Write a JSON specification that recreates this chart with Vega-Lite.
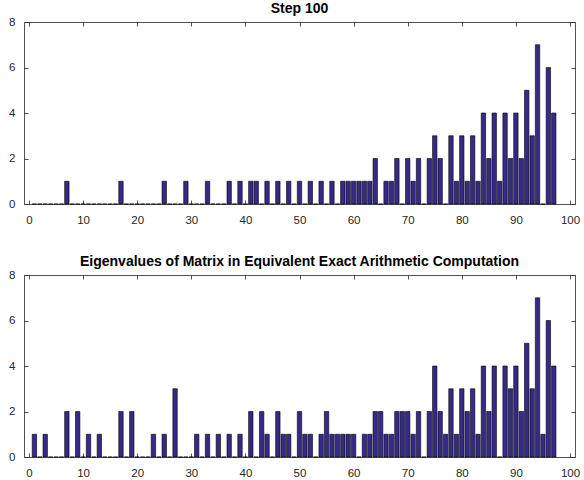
{
  "$schema": "https://vega.github.io/schema/vega-lite/v6.json",
  "padding": {"left": 8, "top": 1, "right": 5, "bottom": 5},
  "background": "white",
  "config": {
    "view": {"stroke": null},
    "font": "Liberation Sans",
    "axis": {
      "grid": false,
      "domainColor": "#262626",
      "domainWidth": 0.8,
      "tickColor": "#262626",
      "tickWidth": 0.8,
      "tickSize": -4,
      "labelFont": "Liberation Sans",
      "labelFontSize": 11.5,
      "labelColor": "#262626",
      "title": null
    },
    "title": {"font": "Liberation Sans", "fontSize": 14, "fontWeight": "bold", "color": "#000000", "anchor": "middle", "baseline": "alphabetic", "offset": 0.5}
  },
  "datasets": {
    "top": [
      {"x":1,"n":0},{"x":2,"n":0},{"x":3,"n":0},{"x":4,"n":0},{"x":5,"n":0},{"x":6,"n":0},{"x":7,"n":1},{"x":8,"n":0},{"x":9,"n":0},{"x":10,"n":0},
      {"x":11,"n":0},{"x":12,"n":0},{"x":13,"n":0},{"x":14,"n":0},{"x":15,"n":0},{"x":16,"n":0},{"x":17,"n":1},{"x":18,"n":0},{"x":19,"n":0},{"x":20,"n":0},
      {"x":21,"n":0},{"x":22,"n":0},{"x":23,"n":0},{"x":24,"n":0},{"x":25,"n":1},{"x":26,"n":0},{"x":27,"n":0},{"x":28,"n":0},{"x":29,"n":1},{"x":30,"n":0},
      {"x":31,"n":0},{"x":32,"n":0},{"x":33,"n":1},{"x":34,"n":0},{"x":35,"n":0},{"x":36,"n":0},{"x":37,"n":1},{"x":38,"n":0},{"x":39,"n":1},{"x":40,"n":0},
      {"x":41,"n":1},{"x":42,"n":1},{"x":43,"n":0},{"x":44,"n":1},{"x":45,"n":0},{"x":46,"n":1},{"x":47,"n":0},{"x":48,"n":1},{"x":49,"n":0},{"x":50,"n":1},
      {"x":51,"n":0},{"x":52,"n":1},{"x":53,"n":0},{"x":54,"n":1},{"x":55,"n":0},{"x":56,"n":1},{"x":57,"n":0},{"x":58,"n":1},{"x":59,"n":1},{"x":60,"n":1},
      {"x":61,"n":1},{"x":62,"n":1},{"x":63,"n":1},{"x":64,"n":2},{"x":65,"n":0},{"x":66,"n":1},{"x":67,"n":1},{"x":68,"n":2},{"x":69,"n":0},{"x":70,"n":2},
      {"x":71,"n":1},{"x":72,"n":2},{"x":73,"n":0},{"x":74,"n":2},{"x":75,"n":3},{"x":76,"n":2},{"x":77,"n":0},{"x":78,"n":3},{"x":79,"n":1},{"x":80,"n":3},
      {"x":81,"n":1},{"x":82,"n":3},{"x":83,"n":1},{"x":84,"n":4},{"x":85,"n":2},{"x":86,"n":4},{"x":87,"n":1},{"x":88,"n":4},{"x":89,"n":2},{"x":90,"n":4},
      {"x":91,"n":2},{"x":92,"n":5},{"x":93,"n":3},{"x":94,"n":7},{"x":95,"n":0},{"x":96,"n":6},{"x":97,"n":4}
    ],
    "bottom": [
      {"x":1,"n":1},{"x":2,"n":0},{"x":3,"n":1},{"x":4,"n":0},{"x":5,"n":0},{"x":6,"n":0},{"x":7,"n":2},{"x":8,"n":0},{"x":9,"n":2},{"x":10,"n":0},
      {"x":11,"n":1},{"x":12,"n":0},{"x":13,"n":1},{"x":14,"n":0},{"x":15,"n":0},{"x":16,"n":0},{"x":17,"n":2},{"x":18,"n":0},{"x":19,"n":2},{"x":20,"n":0},
      {"x":21,"n":0},{"x":22,"n":0},{"x":23,"n":1},{"x":24,"n":0},{"x":25,"n":1},{"x":26,"n":0},{"x":27,"n":3},{"x":28,"n":0},{"x":29,"n":0},{"x":30,"n":0},
      {"x":31,"n":1},{"x":32,"n":0},{"x":33,"n":1},{"x":34,"n":0},{"x":35,"n":1},{"x":36,"n":0},{"x":37,"n":1},{"x":38,"n":0},{"x":39,"n":1},{"x":40,"n":0},
      {"x":41,"n":2},{"x":42,"n":0},{"x":43,"n":2},{"x":44,"n":1},{"x":45,"n":0},{"x":46,"n":2},{"x":47,"n":1},{"x":48,"n":1},{"x":49,"n":0},{"x":50,"n":2},
      {"x":51,"n":1},{"x":52,"n":1},{"x":53,"n":0},{"x":54,"n":1},{"x":55,"n":2},{"x":56,"n":1},{"x":57,"n":1},{"x":58,"n":1},{"x":59,"n":1},{"x":60,"n":1},
      {"x":61,"n":0},{"x":62,"n":1},{"x":63,"n":1},{"x":64,"n":2},{"x":65,"n":2},{"x":66,"n":1},{"x":67,"n":1},{"x":68,"n":2},{"x":69,"n":2},{"x":70,"n":2},
      {"x":71,"n":1},{"x":72,"n":2},{"x":73,"n":0},{"x":74,"n":2},{"x":75,"n":4},{"x":76,"n":2},{"x":77,"n":1},{"x":78,"n":3},{"x":79,"n":1},{"x":80,"n":3},
      {"x":81,"n":2},{"x":82,"n":3},{"x":83,"n":1},{"x":84,"n":4},{"x":85,"n":2},{"x":86,"n":4},{"x":87,"n":0},{"x":88,"n":4},{"x":89,"n":3},{"x":90,"n":4},
      {"x":91,"n":2},{"x":92,"n":5},{"x":93,"n":3},{"x":94,"n":7},{"x":95,"n":1},{"x":96,"n":6},{"x":97,"n":4}
    ]
  },
  "spacing": 71,
  "bounds": "flush",
  "vconcat": [
    {
      "width": 551,
      "height": 182,
      "title": {"text": "Step 100"},
      "data": {"name": "top"},
      "layer": [
        {
          "mark": {"type": "bar", "orient": "vertical", "size": 4.4, "fill": "#352a87", "stroke": "#000000", "strokeWidth": 0.6},
          "encoding": {
            "x": {"field": "x", "type": "quantitative", "scale": {"domain": [0, 100], "nice": false, "zero": false}, "axis": {"orient": "bottom", "values": [0,10,20,30,40,50,60,70,80,90,100], "labelPadding": 14, "labelFlush": false}},
            "y": {"field": "n", "type": "quantitative", "scale": {"domain": [0, 8], "nice": false}, "axis": {"orient": "left", "values": [0,2,4,6,8], "labelPadding": 13}}
          }
        },
        {
          "mark": {"type": "bar", "orient": "vertical", "size": 4.4, "opacity": 0},
          "encoding": {
            "x": {"field": "x", "type": "quantitative", "axis": {"orient": "top", "values": [0,10,20,30,40,50,60,70,80,90,100], "labels": false}},
            "y": {"field": "n", "type": "quantitative", "axis": {"orient": "right", "values": [0,2,4,6,8], "labels": false}}
          }
        }
      ],
      "resolve": {"axis": {"x": "independent", "y": "independent"}}
    },
    {
      "width": 551,
      "height": 182,
      "title": {"text": "Eigenvalues of Matrix in Equivalent Exact Arithmetic Computation"},
      "data": {"name": "bottom"},
      "layer": [
        {
          "mark": {"type": "bar", "orient": "vertical", "size": 4.4, "fill": "#352a87", "stroke": "#000000", "strokeWidth": 0.6},
          "encoding": {
            "x": {"field": "x", "type": "quantitative", "scale": {"domain": [0, 100], "nice": false, "zero": false}, "axis": {"orient": "bottom", "values": [0,10,20,30,40,50,60,70,80,90,100], "labelPadding": 14, "labelFlush": false}},
            "y": {"field": "n", "type": "quantitative", "scale": {"domain": [0, 8], "nice": false}, "axis": {"orient": "left", "values": [0,2,4,6,8], "labelPadding": 13}}
          }
        },
        {
          "mark": {"type": "bar", "orient": "vertical", "size": 4.4, "opacity": 0},
          "encoding": {
            "x": {"field": "x", "type": "quantitative", "axis": {"orient": "top", "values": [0,10,20,30,40,50,60,70,80,90,100], "labels": false}},
            "y": {"field": "n", "type": "quantitative", "axis": {"orient": "right", "values": [0,2,4,6,8], "labels": false}}
          }
        }
      ],
      "resolve": {"axis": {"x": "independent", "y": "independent"}}
    }
  ]
}
